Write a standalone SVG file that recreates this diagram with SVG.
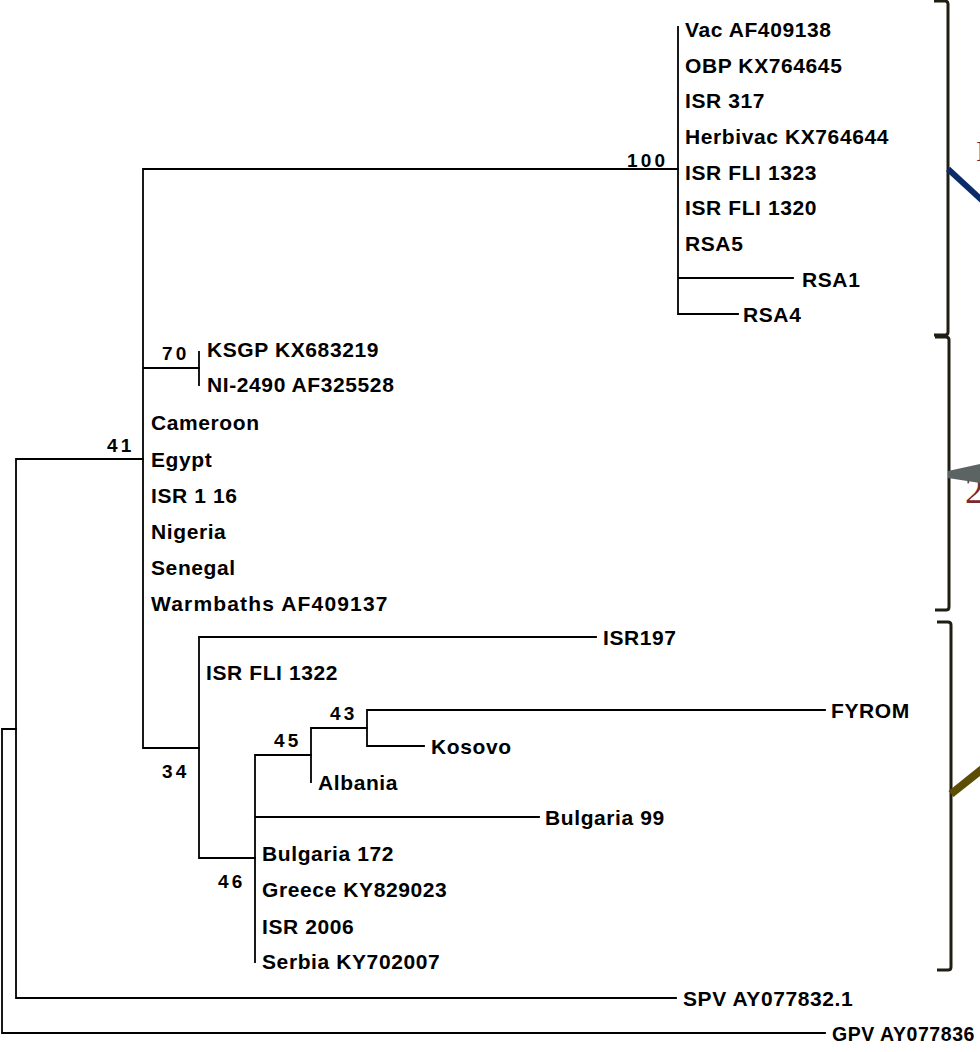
<svg xmlns="http://www.w3.org/2000/svg" width="980" height="1052" viewBox="0 0 980 1052">
<style>
.br{fill:none;stroke:#000;stroke-width:1.8;stroke-linecap:square}
.lb{font-family:"Liberation Sans",Arial,sans-serif;font-weight:bold;font-size:21px;letter-spacing:0.6px;fill:#000}
.bs{font-family:"Liberation Sans",Arial,sans-serif;font-weight:bold;font-size:19px;letter-spacing:3.2px;fill:#000}
.bk{fill:none;stroke:#201d12;stroke-width:3;stroke-linejoin:round}
.dr{font-family:"Liberation Serif","Times New Roman",serif;fill:#7a2a2e}
</style>
<rect width="980" height="1052" fill="#fff"/>
<g id="connectors">
<path class="br" d="M2,729 V1033 M2,729 H16 M2,1033 H825"/>
<path class="br" d="M16,459 V998 M16,459 H143 M16,998 H676"/>
<path class="br" d="M143,169 V748 M143,169 H678 M143,368 H199 M143,748 H199"/>
<path class="br" d="M678,27 V314 M678,278 H793 M678,314 H738"/>
<path class="br" d="M199,352 V385"/>
<path class="br" d="M199,637 V858 M199,637 H596 M199,858 H255"/>
<path class="br" d="M255,755 V962 M255,755 H311 M255,817 H539"/>
<path class="br" d="M311,728 V782 M311,728 H367"/>
<path class="br" d="M367,710 V746 M367,710 H825 M367,746 H424"/>
</g>
<g id="bootstrap">
<text class="bs" x="627" y="167">100</text>
<text class="bs" x="162" y="360">70</text>
<text class="bs" x="107" y="452">41</text>
<text class="bs" x="162" y="778">34</text>
<text class="bs" x="274" y="747">45</text>
<text class="bs" x="330" y="720">43</text>
<text class="bs" x="218" y="888">46</text>
</g>
<g id="clade1-labels">
<text class="lb" x="685" y="36.5">Vac AF409138</text>
<text class="lb" x="685" y="72.5">OBP KX764645</text>
<text class="lb" x="685" y="107.5">ISR 317</text>
<text class="lb" x="685" y="143.5">Herbivac KX764644</text>
<text class="lb" x="685" y="179.5">ISR FLI 1323</text>
<text class="lb" x="685" y="214.5">ISR FLI 1320</text>
<text class="lb" x="685" y="250.5">RSA5</text>
<text class="lb" x="802" y="286.5">RSA1</text>
<text class="lb" x="743" y="321.5">RSA4</text>
</g>
<g id="clade2-labels">
<text class="lb" x="207" y="356.5">KSGP KX683219</text>
<text class="lb" x="207" y="391.5">NI-2490 AF325528</text>
<text class="lb" x="151" y="429.5">Cameroon</text>
<text class="lb" x="151" y="466.5">Egypt</text>
<text class="lb" x="151" y="502.5">ISR 1 16</text>
<text class="lb" x="151" y="538.5">Nigeria</text>
<text class="lb" x="151" y="574.5">Senegal</text>
<text class="lb" x="151" y="610.5" textLength="237">Warmbaths AF409137</text>
</g>
<g id="clade3-labels">
<text class="lb" x="603" y="644.5">ISR197</text>
<text class="lb" x="206" y="679.5">ISR FLI 1322</text>
<text class="lb" x="831" y="717.5">FYROM</text>
<text class="lb" x="431" y="753.5">Kosovo</text>
<text class="lb" x="318" y="789.5">Albania</text>
<text class="lb" x="545" y="824.5">Bulgaria 99</text>
<text class="lb" x="262" y="860.5">Bulgaria 172</text>
<text class="lb" x="262" y="896.5">Greece KY829023</text>
<text class="lb" x="262" y="933.5">ISR 2006</text>
<text class="lb" x="262" y="968.5">Serbia KY702007</text>
</g>
<g id="outgroups">
<text class="lb" x="683" y="1005.5">SPV AY077832.1</text>
<text class="lb" x="832" y="1040.5" textLength="143" lengthAdjust="spacingAndGlyphs">GPV AY077836</text>
</g>
<g id="brackets">
<path class="bk" d="M934,1 H945 Q948,1 948,4 V332 Q948,335 945,335 H934"/>
<path class="bk" d="M935,337 H946 Q949,337 949,340 V607 Q949,610 946,610 H935"/>
<path class="bk" d="M937,622 H948 Q951,622 951,625 V967 Q951,970 948,970 H937"/>
</g>
<g id="callouts">
<text class="dr" x="976" y="161" font-size="30">I</text>
<line x1="948" y1="169" x2="986" y2="204" stroke="#0b2b6b" stroke-width="6"/>
<text class="dr" x="965" y="503" font-size="38">2</text>
<polygon points="948,471 980,464 980,483 948,478" fill="#5b6462"/>
<line x1="951" y1="794" x2="986" y2="766" stroke="#5c4d05" stroke-width="8"/>
</g>
</svg>
